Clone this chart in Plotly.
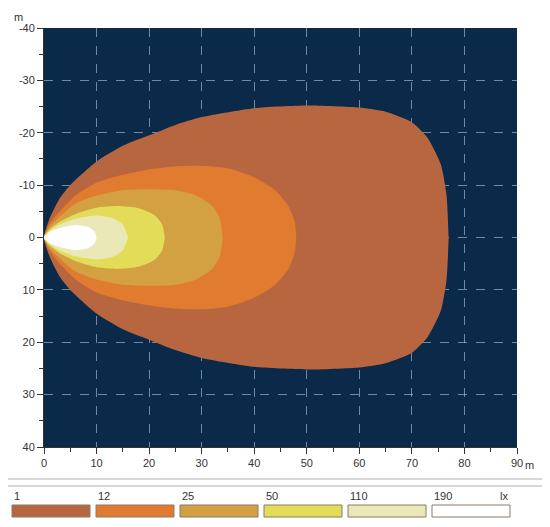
import plotly.graph_objects as go

levels = ["1", "12", "25", "50", "110", "190"]
colors = ["#b8663f", "#e07b30", "#d3a142", "#e3dc58", "#ebe8b7", "#ffffff"]

# half-width profiles (distance x in m, half-width in m) for each isolux level
x_1 = [0, 1, 3, 5, 10, 15, 20, 25, 30, 40, 50, 60, 65, 70, 73, 75.5, 76.6, 77]
w_1 = [0, 3.5, 7.5, 10, 14.5, 17.5, 19.5, 21.5, 23, 24.7, 25.2, 24.8, 24, 22, 19, 14, 8, 0]
x_12 = [0, 1, 3, 6, 10, 15, 20, 25, 30, 35, 40, 44, 46.5, 47.7, 48]
w_12 = [0, 2.5, 5, 8, 10.5, 12, 13, 13.6, 13.7, 13.2, 11.5, 9, 6, 3, 0]
x_25 = [0, 1, 3, 6, 10, 15, 20, 25, 29, 32, 33.5, 34]
w_25 = [0, 2, 4, 6.5, 8, 9, 9.2, 9, 8, 6, 3.5, 0]
x_50 = [0, 1, 3, 6, 10, 14, 18, 21, 22.5, 23]
w_50 = [0, 1.5, 3, 4.5, 5.7, 6, 5.6, 4.3, 2.5, 0]
x_110 = [0, 1, 3, 6, 10, 13, 15, 16]
w_110 = [0, 1.2, 2.5, 3.6, 4.2, 3.7, 2.5, 0]
x_190 = [0, 1, 3, 6, 8.5, 9.7, 10]
w_190 = [0, 1, 1.8, 2.4, 2, 1, 0]

x_ticks = list(range(0, 91, 10))
y_ticks = list(range(-40, 41, 10))
y_labels = [str(v) for v in y_ticks]

profiles = [(x_1, w_1), (x_12, w_12), (x_25, w_25), (x_50, w_50), (x_110, w_110), (x_190, w_190)]

fig = go.Figure()
for (xs, ws), c in zip(profiles, colors):
    px = xs + xs[::-1]
    py = [-w for w in ws] + ws[::-1]
    fig.add_trace(go.Scatter(x=px, y=py, fill="toself", fillcolor=c, mode="lines",
                             line=dict(color=c, width=0, shape="spline", smoothing=0.6),
                             hoverinfo="skip", showlegend=False))

axis_common = dict(showgrid=True, gridcolor="rgba(200,215,235,0.55)", griddash="dash", gridwidth=1,
                   zeroline=False, ticks="outside", ticklen=6, tickcolor="#333", automargin=False,
                   showline=True, linecolor="#333", linewidth=1,
                   tickfont=dict(family="Liberation Sans, Arial", size=11, color="#333"),
                   minor=dict(ticks="outside", ticklen=4, dtick=5, tickcolor="#333", showgrid=False))
fig.update_layout(
    width=542, height=519, paper_bgcolor="white", plot_bgcolor="#0b2a4a",
    margin=dict(l=36, r=33, t=20, b=80, autoexpand=False),
    xaxis=dict(range=[0, 90], tickvals=x_ticks, **axis_common),
    yaxis=dict(range=[40, -40], tickvals=y_ticks, ticktext=y_labels, **axis_common),
)

font = dict(family="Liberation Sans, Arial", size=11, color="#333")
fig.add_annotation(x=0, y=1, xref="paper", yref="paper", text="m", showarrow=False,
                   xanchor="right", yanchor="bottom", xshift=-19, yshift=3, font=font)
fig.add_annotation(x=1, y=0, xref="paper", yref="paper", text="m", showarrow=False,
                   xanchor="left", yanchor="top", xshift=6, yshift=-10, font=font)

def xp(p):
    return (p - 44) / 473
def yp(p):
    return (447 - p) / 419

# separator double line
for yy in [479, 486]:
    fig.add_shape(type="line", xref="paper", yref="paper", x0=xp(0), x1=xp(550),
                  y0=yp(yy), y1=yp(yy), line=dict(color="#b0b0b0", width=1))

# legend boxes
for i, (lab, c) in enumerate(zip(levels, colors)):
    x0 = 12 + i * 84
    fig.add_shape(type="rect", xref="paper", yref="paper", x0=xp(x0), x1=xp(x0 + 78),
                  y0=yp(517), y1=yp(505), fillcolor=c, line=dict(color="#8a7a6a", width=1))
    fig.add_annotation(x=xp(x0), y=yp(504), xref="paper", yref="paper", text=lab, showarrow=False,
                       xanchor="left", yanchor="bottom", font=font)
fig.add_annotation(x=xp(510), y=yp(504), xref="paper", yref="paper", text="lx", showarrow=False,
                   xanchor="right", yanchor="bottom", font=font)

fig.write_html("out.html")
